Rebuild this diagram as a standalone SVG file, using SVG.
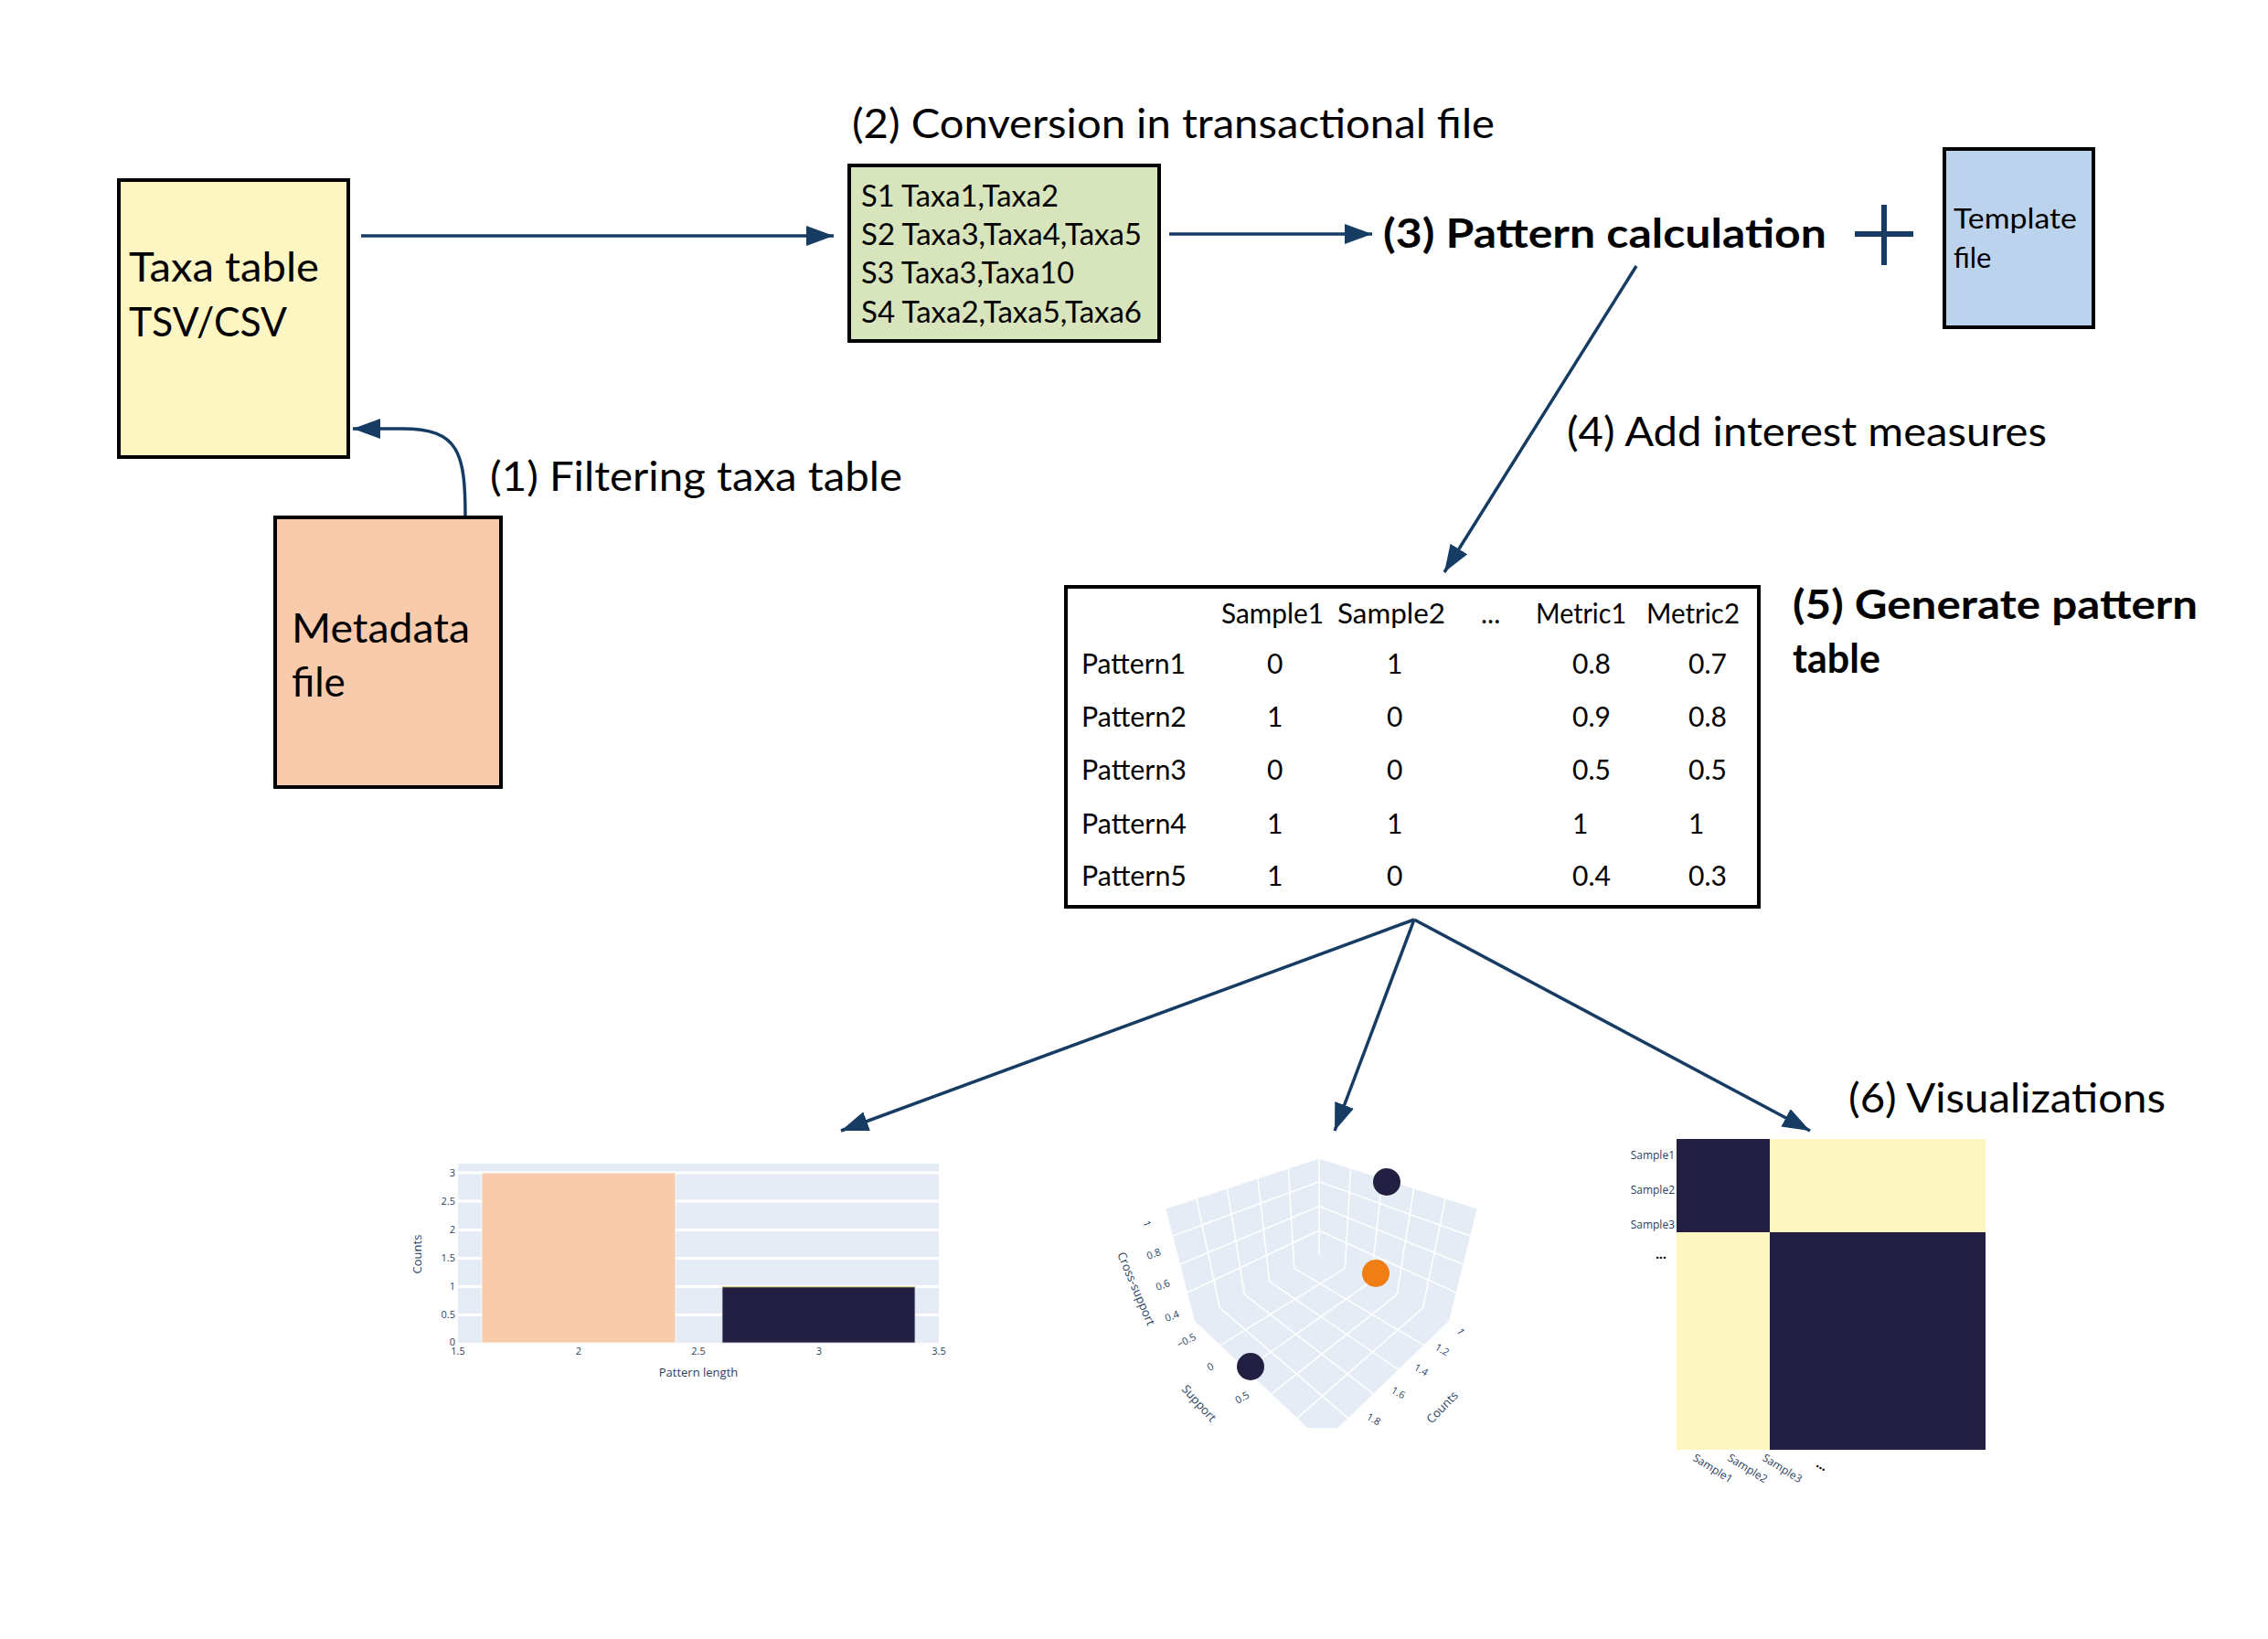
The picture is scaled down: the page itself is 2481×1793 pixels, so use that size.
<svg xmlns="http://www.w3.org/2000/svg" width="2481" height="1793" viewBox="0 0 2481 1793">
<style>
.box{stroke:#000;stroke-width:4}
.lbl{font-family:Lato,"Noto Sans",sans-serif;fill:#000}
.big{font-size:44px}
.bold{font-weight:bold;font-size:43px}
.mid{font-size:32px}
.tbl{font-size:30px}
.conn{fill:none;stroke:#163c64;stroke-width:3.5}
.pl{font-family:"Open Sans","Noto Sans",sans-serif;fill:#2a3f5f}
.grid{stroke:#fff;stroke-width:3}
.g3{stroke:#fff;stroke-width:1.6;fill:none}
</style>
<defs>
<marker id="ah" markerUnits="userSpaceOnUse" markerWidth="32" markerHeight="24" refX="30" refY="11" orient="auto">
<path d="M0,0 L30,11 L0,22 Z" fill="#163c64"/>
</marker>
<clipPath id="c3d"><rect x="1180" y="1240" width="470" height="322"/></clipPath>
</defs>
<rect width="2481" height="1793" fill="#fff"/>

<g id="connectors">
<line class="conn" x1="395" y1="258" x2="912" y2="258" marker-end="url(#ah)"/>
<path class="conn" d="M509,566 C509,495 502,469 440,469 L386,469" marker-end="url(#ah)"/>
<line class="conn" x1="1279" y1="256" x2="1501" y2="256" marker-end="url(#ah)"/>
<line class="conn" x1="1790" y1="291" x2="1580" y2="626" marker-end="url(#ah)"/>
<line class="conn" x1="1547" y1="1006" x2="920" y2="1237" marker-end="url(#ah)"/>
<line class="conn" x1="1547" y1="1006" x2="1460" y2="1237" marker-end="url(#ah)" stroke-width="3"/>
<line class="conn" x1="1547" y1="1006" x2="1980" y2="1237" marker-end="url(#ah)"/>
</g>

<g id="taxa-table">
<rect class="box" x="130" y="197" width="251" height="303" fill="#fdf6c3"/>
<text class="lbl big" x="141" y="308" textLength="208" lengthAdjust="spacingAndGlyphs">Taxa table</text>
<text class="lbl big" x="141" y="368" textLength="173" lengthAdjust="spacingAndGlyphs">TSV/CSV</text>
</g>

<g id="metadata-file">
<rect class="box" x="301" y="566" width="247" height="295" fill="#f8cbad"/>
<text class="lbl big" x="319" y="703" textLength="195" lengthAdjust="spacingAndGlyphs">Metadata</text>
<text class="lbl big" x="319" y="762">file</text>
</g>

<g id="label-1">
<text class="lbl big" x="536" y="537" textLength="451" lengthAdjust="spacingAndGlyphs">(1) Filtering taxa table</text>
</g>

<g id="label-2">
<text class="lbl big" x="932" y="151" textLength="703" lengthAdjust="spacingAndGlyphs">(2) Conversion in transactional file</text>
</g>

<g id="transactional-file">
<rect class="box" x="929" y="181" width="339" height="192" fill="#d8e4bc"/>
<text class="lbl mid" x="942" y="226" textLength="216" lengthAdjust="spacingAndGlyphs">S1 Taxa1,Taxa2</text>
<text class="lbl mid" x="942" y="268" textLength="307" lengthAdjust="spacingAndGlyphs">S2 Taxa3,Taxa4,Taxa5</text>
<text class="lbl mid" x="942" y="310" textLength="233" lengthAdjust="spacingAndGlyphs">S3 Taxa3,Taxa10</text>
<text class="lbl mid" x="942" y="353" textLength="307" lengthAdjust="spacingAndGlyphs">S4 Taxa2,Taxa5,Taxa6</text>
</g>

<g id="pattern-calculation">
<text class="lbl bold" x="1513" y="271" textLength="485" lengthAdjust="spacingAndGlyphs">(3) Pattern calculation</text>
</g>

<g id="plus">
<line x1="2061" y1="224" x2="2061" y2="290" stroke="#163c64" stroke-width="6"/>
<line x1="2029" y1="256" x2="2093" y2="256" stroke="#163c64" stroke-width="6"/>
</g>

<g id="template-file">
<rect class="box" x="2127" y="163" width="163" height="195" fill="#bcd3ee"/>
<text class="lbl" font-size="31" x="2137" y="250" textLength="135" lengthAdjust="spacingAndGlyphs">Template</text>
<text class="lbl" font-size="31" x="2137" y="293">file</text>
</g>

<g id="label-4">
<text class="lbl big" x="1714" y="488" textLength="525" lengthAdjust="spacingAndGlyphs">(4) Add interest measures</text>
</g>

<g id="pattern-table">
<rect class="box" x="1166" y="642" width="758" height="350" fill="#fff"/>
<g class="lbl tbl">
<text x="1336" y="682" textLength="112" lengthAdjust="spacingAndGlyphs">Sample1</text>
<text x="1463" y="682" textLength="118" lengthAdjust="spacingAndGlyphs">Sample2</text>
<text x="1620" y="682">...</text>
<text x="1680" y="682" textLength="99" lengthAdjust="spacingAndGlyphs">Metric1</text>
<text x="1801" y="682" textLength="102" lengthAdjust="spacingAndGlyphs">Metric2</text>
<text x="1183" y="737" textLength="114" lengthAdjust="spacingAndGlyphs">Pattern1</text>
<text x="1183" y="795" textLength="115" lengthAdjust="spacingAndGlyphs">Pattern2</text>
<text x="1183" y="853" textLength="115" lengthAdjust="spacingAndGlyphs">Pattern3</text>
<text x="1183" y="912" textLength="115" lengthAdjust="spacingAndGlyphs">Pattern4</text>
<text x="1183" y="969" textLength="115" lengthAdjust="spacingAndGlyphs">Pattern5</text>
<text x="1386" y="737">0</text><text x="1517" y="737">1</text><text x="1720" y="737">0.8</text><text x="1847" y="737">0.7</text>
<text x="1386" y="795">1</text><text x="1517" y="795">0</text><text x="1720" y="795">0.9</text><text x="1847" y="795">0.8</text>
<text x="1386" y="853">0</text><text x="1517" y="853">0</text><text x="1720" y="853">0.5</text><text x="1847" y="853">0.5</text>
<text x="1386" y="912">1</text><text x="1517" y="912">1</text><text x="1720" y="912">1</text><text x="1847" y="912">1</text>
<text x="1386" y="969">1</text><text x="1517" y="969">0</text><text x="1720" y="969">0.4</text><text x="1847" y="969">0.3</text>
</g>
</g>

<g id="label-5">
<text class="lbl bold" x="1961" y="677" textLength="443" lengthAdjust="spacingAndGlyphs">(5) Generate pattern</text>
<text class="lbl bold" x="1961" y="736">table</text>
</g>

<g id="label-6">
<text class="lbl big" x="2022" y="1217" textLength="347" lengthAdjust="spacingAndGlyphs">(6) Visualizations</text>
</g>

<g id="bar-chart">
<rect x="501" y="1273" width="526" height="196" fill="#e5ecf6"/>
<g class="grid">
<line x1="501" y1="1283" x2="1027" y2="1283"/>
<line x1="501" y1="1314" x2="1027" y2="1314"/>
<line x1="501" y1="1345.5" x2="1027" y2="1345.5"/>
<line x1="501" y1="1376.5" x2="1027" y2="1376.5"/>
<line x1="501" y1="1407.5" x2="1027" y2="1407.5"/>
<line x1="501" y1="1438.5" x2="1027" y2="1438.5"/>
</g>
<rect x="527" y="1283" width="212" height="186" fill="#f8cbad" stroke="#fff" stroke-width="0.8"/>
<rect x="790" y="1407.5" width="211" height="61.5" fill="#221f43" stroke="#d8d8e8" stroke-width="0.8"/>
<line x1="790" y1="1407.8" x2="1001" y2="1407.8" stroke="#e8e070" stroke-width="1"/>
<g class="pl" font-size="11" text-anchor="end">
<text x="498" y="1287">3</text>
<text x="498" y="1318">2.5</text>
<text x="498" y="1349">2</text>
<text x="498" y="1380">1.5</text>
<text x="498" y="1411">1</text>
<text x="498" y="1442">0.5</text>
<text x="498" y="1472">0</text>
</g>
<g class="pl" font-size="11" text-anchor="middle">
<text x="501" y="1482">1.5</text>
<text x="633" y="1482">2</text>
<text x="764" y="1482">2.5</text>
<text x="896" y="1482">3</text>
<text x="1027" y="1482">3.5</text>
</g>
<text class="pl" font-size="13" x="764" y="1506" text-anchor="middle">Pattern length</text>
<text class="pl" font-size="13" x="0" y="0" text-anchor="middle" transform="translate(461,1372) rotate(-90)">Counts</text>
</g>

<g id="scatter-3d">
<g clip-path="url(#c3d)">
<polygon points="1275,1321 1443,1266 1443,1373 1307,1445" fill="#e5ecf6"/>
<polygon points="1443,1266 1616,1321 1585,1445 1443,1373" fill="#e5ecf6"/>
<polygon points="1443,1373 1585,1445 1447,1578 1307,1445" fill="#e5ecf6"/>
<g class="g3">
<line x1="1308.6" y1="1310" x2="1334.2" y2="1430.6"/>
<line x1="1342.2" y1="1299" x2="1361.4" y2="1416.2"/>
<line x1="1375.8" y1="1288" x2="1388.6" y2="1401.8"/>
<line x1="1409.4" y1="1277" x2="1415.8" y2="1387.4"/>
<line x1="1283" y1="1352" x2="1443" y2="1292.75"/>
<line x1="1291" y1="1383" x2="1443" y2="1319.5"/>
<line x1="1299" y1="1414" x2="1443" y2="1346.25"/>
<line x1="1477.6" y1="1277" x2="1471.4" y2="1387.4"/>
<line x1="1512.2" y1="1288" x2="1499.8" y2="1401.8"/>
<line x1="1546.8" y1="1299" x2="1528.2" y2="1416.2"/>
<line x1="1581.4" y1="1310" x2="1556.6" y2="1430.6"/>
<line x1="1443" y1="1292.75" x2="1608.25" y2="1352"/>
<line x1="1443" y1="1319.5" x2="1600.5" y2="1383"/>
<line x1="1443" y1="1346.25" x2="1592.75" y2="1414"/>
<line x1="1471.4" y1="1387.4" x2="1335" y2="1471.6"/>
<line x1="1499.8" y1="1401.8" x2="1363" y2="1498.2"/>
<line x1="1528.2" y1="1416.2" x2="1391" y2="1524.8"/>
<line x1="1556.6" y1="1430.6" x2="1419" y2="1551.4"/>
<line x1="1415.8" y1="1387.4" x2="1557.4" y2="1471.6"/>
<line x1="1388.6" y1="1401.8" x2="1529.8" y2="1498.2"/>
<line x1="1361.4" y1="1416.2" x2="1502.2" y2="1524.8"/>
<line x1="1334.2" y1="1430.6" x2="1474.6" y2="1551.4"/>
<polyline points="1275,1321 1443,1266 1616,1321" stroke-width="3"/>
<line x1="1443" y1="1266" x2="1443" y2="1373"/>
</g>
</g>
<circle cx="1517" cy="1293" r="15" fill="#221f43"/>
<circle cx="1505" cy="1393" r="15" fill="#ef7e14"/>
<circle cx="1368" cy="1495" r="15" fill="#221f43"/>
<g class="pl" font-size="11">
<text x="0" y="0" transform="translate(1250,1337) rotate(70)">1</text>
<text x="0" y="0" transform="translate(1256,1378) rotate(-20)">0.8</text>
<text x="0" y="0" transform="translate(1266,1412) rotate(-20)">0.6</text>
<text x="0" y="0" transform="translate(1276,1446) rotate(-20)">0.4</text>
<text x="0" y="0" transform="translate(1290,1475) rotate(-28)">−0.5</text>
<text x="0" y="0" transform="translate(1323,1500) rotate(-28)">0</text>
<text x="0" y="0" transform="translate(1354,1536) rotate(-30)">0.5</text>
<text x="0" y="0" transform="translate(1593,1456) rotate(60)">1</text>
<text x="0" y="0" transform="translate(1569,1476) rotate(30)">1.2</text>
<text x="0" y="0" transform="translate(1546,1498) rotate(30)">1.4</text>
<text x="0" y="0" transform="translate(1521,1523) rotate(30)">1.6</text>
<text x="0" y="0" transform="translate(1494,1552) rotate(30)">1.8</text>
</g>
<g class="pl" font-size="13">
<text x="0" y="0" transform="translate(1222,1372) rotate(67)">Cross-support</text>
<text x="0" y="0" transform="translate(1292,1520) rotate(48)">Support</text>
<text x="0" y="0" transform="translate(1566,1558) rotate(-46)">Counts</text>
</g>
</g>

<g id="heatmap">
<rect x="1834" y="1246" width="102" height="102" fill="#221f43"/>
<rect x="1936" y="1246" width="236" height="102" fill="#fcf6c1"/>
<rect x="1834" y="1348" width="102" height="238" fill="#fcf6c1"/>
<rect x="1936" y="1348" width="236" height="238" fill="#221f43"/>
<g class="pl" font-size="12" text-anchor="end">
<text x="1832" y="1268">Sample1</text>
<text x="1832" y="1306">Sample2</text>
<text x="1832" y="1344">Sample3</text>
</g>
<text x="1817" y="1377" font-family="Lato,sans-serif" font-size="16" font-weight="bold" text-anchor="middle" fill="#000">...</text>
<g class="pl" font-size="12">
<text x="0" y="0" transform="translate(1851,1597) rotate(32)">Sample1</text>
<text x="0" y="0" transform="translate(1889,1597) rotate(32)">Sample2</text>
<text x="0" y="0" transform="translate(1927,1597) rotate(32)">Sample3</text>
</g>
<text x="0" y="0" font-family="Lato,sans-serif" font-size="16" font-weight="bold" fill="#000" transform="translate(1986,1604) rotate(30)">...</text>
</g>
</svg>
